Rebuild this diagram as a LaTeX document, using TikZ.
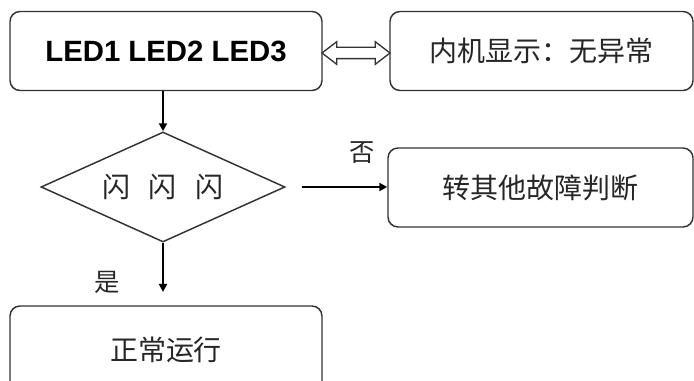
\documentclass[tikz,border=0pt]{standalone}
\usepackage{fontspec}
\setmainfont{Liberation Sans}
\newfontfamily\cjk{Noto Sans CJK SC}
\usetikzlibrary{shapes.geometric,shapes.arrows,arrows.meta,calc}
\begin{document}
\begin{tikzpicture}[x=0.75pt,y=-0.75pt,
  box/.style={draw=black!80, line width=1.1pt, rounded corners=7.5pt, minimum height=59.25pt, inner sep=0pt, align=center},
  arr/.style={line width=1.5pt, -{Triangle[length=6pt,width=6pt]}},
  cjkt/.style={font=\cjk\fontsize{21pt}{24pt}\selectfont, text=black!85},
  lbl/.style={font=\cjk\fontsize{19pt}{22pt}\selectfont, text=black!85}]
\useasboundingbox (0,0) rectangle (694,381);
\begin{scope}
\clip (0,0) rectangle (694,381);
\node[box, minimum width=234pt, font=\bfseries\fontsize{22pt}{26pt}\selectfont] (led) at (166,51) {LED1 LED2 LED3};
\node[box, cjkt, minimum width=227.25pt] (nj) at (541.5,51) {内机显示：无异常};
\node[draw=black!80, line width=1.1pt, diamond, shape aspect=2.2, minimum width=183pt, minimum height=82.5pt, inner sep=0pt, cjkt] (d) at (163,187) {闪\hspace{14pt}闪\hspace{14pt}闪};
\node[box, cjkt, minimum width=228.75pt] (zt) at (540.5,187.5) {转其他故障判断};
\node[box, cjkt, minimum width=234pt, minimum height=66pt] (zc) at (166,350) {正常运行};
\node[double arrow, draw=black!80, line width=1pt, fill=white, minimum height=51pt, minimum width=16pt, inner xsep=0pt, inner ysep=3.75pt, double arrow head extend=4.25pt, double arrow tip angle=75] (da) at ($(led.east)!0.5!(nj.west)+(0,2)$) {};
\draw[arr] (d.north |- led.south) -- (d.north);
\draw[arr, shorten <=12pt] (d.east) -- (d.east -| zt.west);
\draw[arr, shorten >=10pt] (d.south) -- (d.south |- zc.north);
\node[lbl] (no) at (362,153) {否};
\node[lbl] (yes) at (107,282) {是};
\end{scope}
\end{tikzpicture}
\end{document}
